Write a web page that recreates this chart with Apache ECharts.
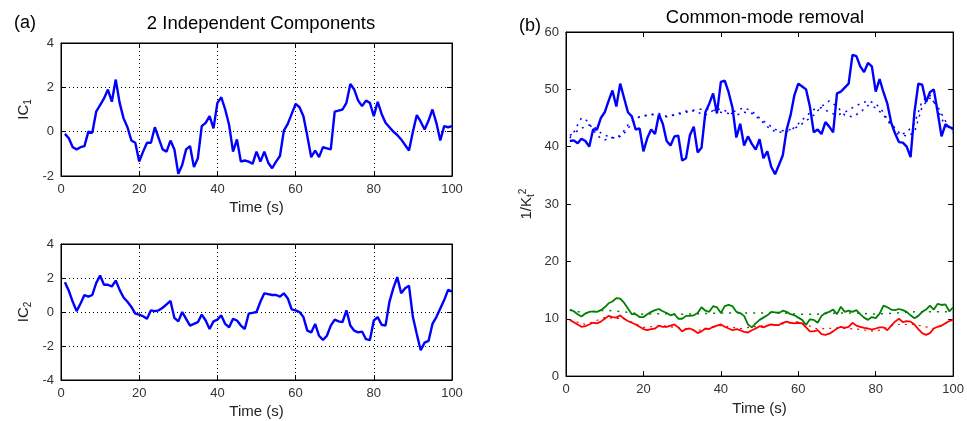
<!DOCTYPE html>
<html>
<head>
<meta charset="utf-8">
<script src="https://cdn.jsdelivr.net/npm/echarts@6/dist/echarts.min.js"></script>
<style>
html,body{margin:0;padding:0;background:#fff;}
#chart{width:967px;height:421px;}
</style>
</head>
<body>
<div id="chart"></div>
<script>
// ---- data ----
var timeS = [1,2,3,4,5,6,7,8,9,10,11,12,13,14,15,16,17,18,19,20,21,22,23,24,25,26,27,28,29,30,31,32,33,34,35,36,37,38,39,40,41,42,43,44,45,46,47,48,49,50,51,52,53,54,55,56,57,58,59,60,61,62,63,64,65,66,67,68,69,70,71,72,73,74,75,76,77,78,79,80,81,82,83,84,85,86,87,88,89,90,91,92,93,94,95,96,97,98,99,100];

var ic1 = [-0.1,-0.3,-0.7,-0.8,-0.7,-0.65,0.0,-0.05,0.9,1.2,1.5,1.9,1.35,2.35,1.3,0.6,0.2,-0.4,-0.5,-1.35,
  -0.9,-0.5,-0.5,0.2,-0.3,-0.8,-0.9,-0.4,-0.8,-1.9,-1.5,-0.8,-0.65,-1.6,-1.2,0.25,0.4,0.7,0.15,1.3,
  1.55,1.0,0.3,-0.9,-0.35,-1.35,-1.3,-1.35,-1.45,-0.9,-1.35,-0.9,-1.4,-1.65,-1.35,-1.1,0.05,0.35,0.8,1.25,
  1.1,0.7,-0.2,-1.15,-0.85,-1.15,-0.7,-0.75,-0.8,0.9,0.95,1.0,1.3,2.15,1.9,1.4,1.15,1.4,1.3,0.7,
  1.35,0.8,0.4,0.2,0.0,-0.15,-0.35,-0.6,-0.85,0.0,0.75,0.45,0.1,0.5,1.0,0.4,-0.4,0.25,0.2,0.25];

var ic2 = [1.75,1.25,0.6,0.05,0.5,1.0,0.9,1.0,1.7,2.15,1.6,1.6,1.5,1.85,1.3,0.85,0.6,0.3,-0.1,-0.15,
  -0.25,-0.4,0.1,0.05,0.1,0.25,0.45,0.65,-0.35,-0.55,0.0,-0.4,-0.8,-0.7,-0.6,-0.15,-0.5,-1.0,-0.55,-0.45,
  -0.2,-0.7,-0.9,-0.4,-0.5,-0.8,-1.0,-0.1,-0.05,0.0,0.6,1.1,1.05,1.0,1.0,0.9,1.1,0.8,0.15,0.1,
  0.0,-0.3,-1.1,-1.2,-0.7,-1.4,-1.65,-1.4,-0.8,-0.45,-0.55,-0.6,0.1,-0.8,-1.1,-1.2,-1.15,-1.6,-1.65,-0.5,
  -0.3,-0.75,-0.8,0.6,1.4,2.05,1.1,1.4,1.55,-0.3,-1.3,-2.25,-1.8,-1.7,-0.7,-0.3,0.2,0.7,1.3,1.2];

var blueSolid = [41.0,41.1,40.6,41.4,41.0,40.0,43.0,43.0,45.0,46.0,48.0,49.8,47.0,51.0,48.5,46.0,45.3,43.0,43.2,39.2,
  41.5,43.0,42.2,45.6,44.0,41.0,40.2,41.8,41.9,37.6,38.0,42.0,43.5,39.0,39.8,46.0,47.5,49.3,45.8,51.3,
  51.5,49.5,46.8,41.6,44.0,40.2,41.8,40.5,39.5,41.3,38.0,39.2,36.5,35.2,36.8,38.5,43.0,45.5,49.0,51.0,
  50.5,50.0,47.0,42.5,43.0,42.2,44.3,43.5,42.5,49.3,49.6,50.3,51.0,56.0,55.8,54.0,53.0,54.6,54.0,49.6,
  51.8,49.5,47.5,44.2,42.3,40.8,40.7,40.0,38.2,46.0,51.0,50.8,47.8,49.5,50.0,46.0,41.8,43.9,43.4,43.2];

var dotTime = [1,2,3,4,5,6,7,8,9,10,11,12,13,14,15,16,17,18,19,20,22,24,26,28,30,32,34,36,38,40,42,44,46,48,50,52,54,56,58,60,62,64,66,68,70,72,74,76,78,80,82,84,86,88,90,92,94,96,98,100];
var blueDotA = [41.5,42.5,43.8,45.0,44.8,44.0,43.0,42.0,41.5,41.2,41.3,41.6,41.8,41.9,42.3,43.2,44.0,44.8,45.2,45.4,
  45.6,45.5,45.2,45.5,45.8,46.2,46.5,46.6,46.4,46.0,45.8,46.3,46.8,46.2,45.0,44.0,43.0,42.8,43.0,43.5,
  44.5,45.5,47.0,48.0,47.0,45.5,45.2,46.0,47.2,46.8,45.5,44.0,42.5,41.8,42.5,47.0,48.5,47.0,44.5,42.5];
var blueDotB = [42.0,42.3,42.8,43.2,43.5,43.8,43.6,43.0,42.4,42.0,41.8,41.6,41.4,41.8,42.8,43.8,44.5,45.0,45.2,45.3,
  45.6,45.8,45.3,45.6,46.0,46.4,46.0,45.5,46.3,46.6,46.0,45.5,46.0,45.8,44.8,43.5,42.6,42.5,42.8,44.0,
  45.3,46.5,46.8,46.0,45.5,46.0,46.8,47.5,48.0,47.5,46.0,43.5,42.0,42.5,44.0,48.0,49.0,46.5,43.5,43.0];

var greenSolid = [11.6,11.3,10.8,10.4,10.9,11.2,11.3,11.2,11.5,12.0,12.7,13.0,13.6,13.5,12.8,11.8,10.8,10.8,10.3,10.3,
  10.8,11.2,11.5,11.7,11.3,11.0,10.6,10.8,10.0,10.0,10.5,10.5,10.6,11.0,12.0,11.4,11.2,12.2,12.0,11.0,
  12.2,12.4,12.2,11.2,11.0,10.5,9.0,8.5,9.2,9.8,10.2,10.6,11.2,11.1,11.0,11.4,11.2,10.8,10.6,10.2,
  9.8,8.9,9.9,9.8,9.3,10.5,11.0,11.2,11.6,10.8,12.1,11.2,11.4,11.2,11.5,10.8,10.2,9.8,10.3,10.1,
  10.9,12.3,12.0,11.6,11.5,11.7,11.5,11.2,10.6,10.1,10.5,11.2,11.6,12.3,11.6,12.6,12.4,12.5,11.3,12.0];

var redSolid = [9.8,9.4,9.0,8.6,8.7,9.0,9.3,9.2,9.5,10.0,10.5,10.3,10.2,10.6,10.0,9.6,9.3,9.0,8.6,8.2,
  8.0,8.2,8.3,8.8,8.6,8.6,8.8,9.0,8.5,7.8,8.2,8.3,8.0,7.5,7.8,8.3,8.2,8.6,8.8,9.0,
  8.6,8.3,8.0,8.2,8.0,7.7,7.6,8.0,8.3,8.7,8.5,8.8,9.0,8.9,8.9,9.3,9.5,9.3,9.2,9.3,
  9.2,8.5,7.8,7.8,8.0,7.3,7.2,7.4,7.8,8.3,8.6,8.4,8.6,9.3,8.8,8.6,8.4,8.3,8.1,8.3,
  8.5,8.5,8.0,8.8,9.5,10.0,9.4,9.6,9.5,9.0,8.2,7.5,7.2,7.5,8.3,8.6,8.8,9.2,9.6,9.8];

var sparseTime = [1,5,10,15,20,25,30,35,40,45,50,55,60,65,70,75,80,85,90,95,100];
var greenDot = [11.5,11.0,11.5,11.2,10.8,10.9,10.8,10.9,11.0,11.0,11.0,11.1,10.8,10.8,11.0,11.0,10.8,11.0,11.2,11.2,11.2];
var redDot = [9.8,9.0,10.2,10.0,8.5,8.8,8.3,8.0,8.8,8.3,8.7,9.0,9.5,8.2,8.4,8.2,7.8,9.0,9.0,8.3,9.8];

var icTitle = '2 Independent Components';
var cmTitle = 'Common-mode removal';

function pairs(t, v){ return t.map(function(x,i){ return [x, v[i]]; }); }

// ---- chart ----
var chart = echarts.init(document.getElementById('chart'), null, {renderer:'canvas'});
var FONT = 'Liberation Sans, Arial, sans-serif';
var axisLineS = {show:true, onZero:false, lineStyle:{color:'#000', width:1}};
var tickS = {show:true, inside:true, length:5, lineStyle:{color:'#000'}};
var labelS = {color:'#333', fontSize:13, fontFamily:FONT, margin:7};
var gridLineA = {show:true, lineStyle:{color:'#000', type:[1,3], width:1}};

function xAx(grid, showLabel, pos, split){
  return {type:'value', gridIndex:grid, position:pos, min:0, max:100, interval:20,
    axisLine:axisLineS, axisTick:tickS,
    axisLabel: showLabel ? labelS : {show:false},
    splitLine: split ? gridLineA : {show:false},
    name: showLabel ? 'Time (s)' : '', nameLocation:'middle', nameGap:24,
    nameTextStyle:{color:'#222', fontSize:15, fontFamily:FONT}};
}
function yAx(grid, min, max, interval, showLabel, pos, split, name, gap, rich){
  return {type:'value', gridIndex:grid, position:pos, min:min, max:max, interval:interval,
    axisLine:axisLineS, axisTick:tickS,
    axisLabel: showLabel ? Object.assign({}, labelS, {margin:7}) : {show:false},
    splitLine: split ? gridLineA : {show:false},
    name: name || '', nameLocation:'middle', nameGap:gap || 0, nameRotate:90,
    nameTextStyle:{color:'#222', fontSize:15, fontFamily:FONT, rich:rich}};
}
var subRich = {sub:{fontSize:10, fontFamily:FONT, color:'#222', verticalAlign:'bottom', padding:[8,0,0,0]},
               sup:{fontSize:10, fontFamily:FONT, color:'#222', padding:[0,0,8,0]}};

var option = {
  backgroundColor:'#fff',
  animation:false,
  title:[
    {text:'(a)', left:9, top:9, textStyle:{fontSize:18, fontWeight:'normal', color:'#000', fontFamily:FONT}},
    {text:icTitle, left:256, textAlign:'center', top:9, textStyle:{fontSize:18.5, fontWeight:'normal', color:'#000', fontFamily:FONT}},
    {text:'(b)', left:514, top:12, textStyle:{fontSize:18, fontWeight:'normal', color:'#000', fontFamily:FONT}},
    {text:cmTitle, left:760, textAlign:'center', top:3, textStyle:{fontSize:18.5, fontWeight:'normal', color:'#000', fontFamily:FONT}}
  ],
  grid:[
    {left:61, top:43, width:391, height:133, show:true, borderColor:'#000', borderWidth:1},
    {left:61, top:244, width:391, height:136, show:true, borderColor:'#000', borderWidth:1},
    {left:566, top:32, width:390, height:350, show:true, borderColor:'#000', borderWidth:1}
  ],
  xAxis:[
    xAx(0, true, 'bottom', true),
    xAx(1, true, 'bottom', true),
    xAx(2, true, 'bottom', false),
    xAx(0, false, 'top', false),
    xAx(1, false, 'top', false),
    xAx(2, false, 'top', false)
  ],
  yAxis:[
    yAx(0, -2, 4, 2, true, 'left', true, 'IC{sub|1}', 28, subRich),
    yAx(1, -4, 4, 2, true, 'left', true, 'IC{sub|2}', 28, subRich),
    yAx(2, 0, 60, 10, true, 'left', false, '1/K{sub|t}{sup|2}', 30, subRich),
    yAx(0, -2, 4, 2, false, 'right', false),
    yAx(1, -4, 4, 2, false, 'right', false),
    yAx(2, 0, 60, 10, false, 'right', false)
  ],
  series:[
    {type:'line', xAxisIndex:0, yAxisIndex:0, data:pairs(timeS, ic1), showSymbol:false, symbol:'none',
      lineStyle:{color:'#0000ff', width:2.4}},
    {type:'line', xAxisIndex:1, yAxisIndex:1, data:pairs(timeS, ic2), showSymbol:false, symbol:'none',
      lineStyle:{color:'#0000ff', width:2.4}},
    {type:'line', xAxisIndex:2, yAxisIndex:2, data:pairs(dotTime, blueDotA), showSymbol:false, symbol:'none',
      lineStyle:{color:'#0000ff', width:1.5, type:[2,5]}},
    {type:'line', xAxisIndex:2, yAxisIndex:2, data:pairs(dotTime, blueDotB), showSymbol:false, symbol:'none',
      lineStyle:{color:'#0000ff', width:1.5, type:[2,5]}},
    {type:'line', xAxisIndex:2, yAxisIndex:2, data:pairs(sparseTime, greenDot), showSymbol:false, symbol:'none',
      lineStyle:{color:'#008000', width:1.5, type:[2,6]}},
    {type:'line', xAxisIndex:2, yAxisIndex:2, data:pairs(sparseTime, redDot), showSymbol:false, symbol:'none',
      lineStyle:{color:'#ff0000', width:1.2, type:[2,5]}},
    {type:'line', xAxisIndex:2, yAxisIndex:2, data:pairs(timeS, blueSolid), showSymbol:false, symbol:'none',
      lineStyle:{color:'#0000ff', width:2.4}},
    {type:'line', xAxisIndex:2, yAxisIndex:2, data:pairs(timeS, greenSolid), showSymbol:false, symbol:'none',
      lineStyle:{color:'#008000', width:1.8}},
    {type:'line', xAxisIndex:2, yAxisIndex:2, data:pairs(timeS, redSolid), showSymbol:false, symbol:'none',
      lineStyle:{color:'#ff0000', width:1.8}}
  ]
};
chart.setOption(option);
</script>
</body>
</html>
